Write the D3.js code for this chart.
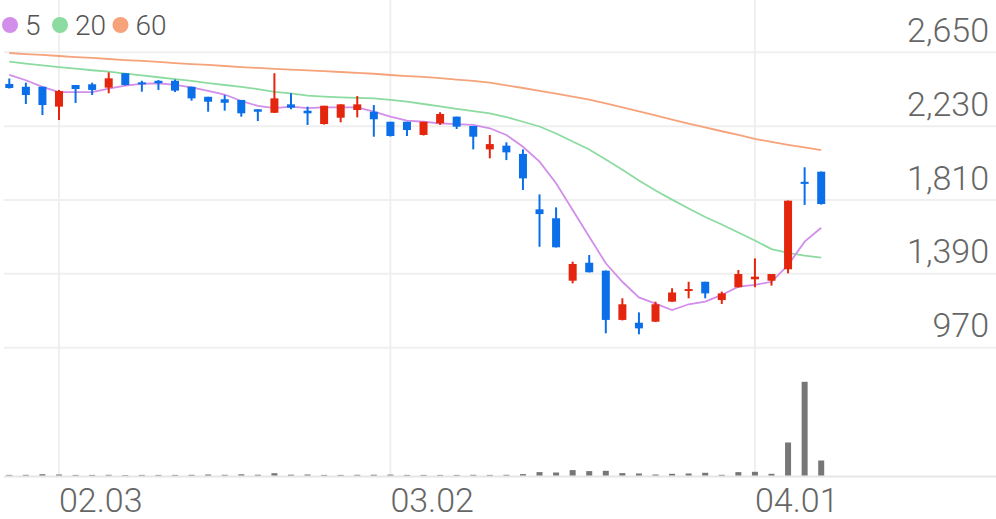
<!DOCTYPE html>
<html>
<head>
<meta charset="utf-8">
<script src="https://cdn.jsdelivr.net/npm/d3@7"></script>
<style>
  html, body { margin: 0; padding: 0; background: #fff; }
  svg { display: block; }
  text { font-family: Roboto, "Noto Sans", sans-serif; }
</style>
</head>
<body>
<svg id="chart" width="996" height="519"></svg>
<script>
const dates = ["01.29","01.30","01.31","02.03","02.04","02.05","02.06","02.07","02.10","02.11",
  "02.12","02.13","02.14","02.17","02.18","02.19","02.20","02.21","02.24","02.25",
  "02.26","02.27","02.28","03.02","03.03","03.04","03.05","03.06","03.09","03.10",
  "03.11","03.12","03.13","03.16","03.17","03.18","03.19","03.20","03.23","03.24",
  "03.25","03.26","03.27","03.30","03.31","04.01","04.02","04.03","04.06","04.07"];
const open  = [2470,2454,2454,2341,2464,2468,2449,2531,2479,2488,2488,2454,2397,2383,2379,2326,2306,2354,2318,2242,2278,2322,2312,2255,2255,2180,2246,2284,2231,2098,2119,2072,1757,1706,1351,1453,1408,1128,1112,1118,1232,1294,1345,1241,1314,1359,1351,1416,1912,1971];
const high  = [2501,2477,2454,2436,2464,2477,2536,2531,2488,2492,2495,2454,2397,2407,2379,2326,2531,2417,2341,2346,2354,2401,2350,2255,2255,2255,2309,2284,2231,2180,2138,2098,1842,1768,1459,1497,1409,1251,1171,1232,1308,1345,1345,1289,1412,1478,1389,1807,1996,1972];
const low   = [2444,2356,2293,2265,2362,2407,2417,2461,2426,2436,2424,2375,2312,2318,2284,2259,2305,2326,2237,2239,2252,2280,2170,2171,2174,2177,2237,2214,2098,2047,2037,1867,1544,1540,1336,1398,1052,1125,1046,1116,1230,1251,1251,1219,1312,1314,1323,1393,1782,1784];
const close = [2447,2407,2350,2430,2441,2436,2502,2464,2468,2474,2432,2388,2369,2363,2303,2312,2388,2335,2303,2346,2354,2354,2269,2174,2208,2255,2299,2227,2170,2128,2081,1933,1730,1541,1446,1399,1128,1217,1080,1217,1284,1302,1279,1279,1389,1374,1389,1806,1903,1787];
const volume = [60000,70000,130000,100000,60000,60000,70000,50000,60000,60000,60000,70000,100000,70000,120000,80000,230000,80000,100000,60000,60000,70000,80000,90000,60000,60000,60000,60000,70000,60000,70000,140000,340000,300000,540000,440000,470000,240000,200000,100000,170000,200000,270000,70000,340000,370000,170000,3300000,9370000,1500000];
const ma5  = [2521,2491,2453,2424,2423,2423,2444,2461,2471,2474,2465,2450,2430,2410,2373,2345,2332,2341,2332,2337,2337,2337,2312,2284,2261,2255,2246,2242,2237,2218,2180,2113,2028,1905,1753,1601,1450,1345,1256,1221,1184,1217,1232,1270,1317,1327,1345,1440,1573,1652];
const ma20 = [2597,2586,2576,2566,2557,2548,2540,2529,2519,2508,2498,2487,2475,2464,2453,2441,2425,2416,2404,2398,2394,2391,2388,2380,2369,2356,2342,2328,2315,2303,2282,2255,2228,2188,2143,2097,2040,1982,1921,1864,1812,1762,1713,1671,1625,1580,1531,1509,1494,1482];
const ma60 = [2646,2640,2635,2629,2623,2618,2612,2606,2601,2595,2589,2583,2578,2572,2566,2561,2556,2552,2547,2543,2538,2533,2528,2521,2515,2510,2503,2495,2487,2477,2462,2447,2431,2415,2398,2381,2360,2337,2314,2291,2267,2245,2223,2201,2180,2158,2140,2124,2109,2094];
const priceTicks = [970, 1390, 1810, 2230, 2650];
const dateTicks = ["02.03", "03.02", "04.01"];
const legendLabels = ["5", "20", "60"];

const W = 996, H = 519;
const colors = { up: "#e3260d", down: "#0a6fe8", vol: "#777777",
  ma5: "#d28ee9", ma20: "#8cdba0", ma60: "#f6a27a", grid: "#efefef", text: "#666666" };

const svg = d3.select("#chart");
svg.append("rect").attr("width", W).attr("height", H).attr("fill", "#fff");

const x = d3.scalePoint().domain(dates).range([9.3, 821.2]);
const y = d3.scaleLinear().domain([970, 2650]).range([347.7, 52.3]);
const yv = d3.scaleLinear().domain([0, 10000000]).range([475.5, 375.5]);

// horizontal grid
svg.append("g").selectAll("line").data(priceTicks).join("line")
  .attr("x1", 4).attr("x2", W)
  .attr("y1", d => y(d)).attr("y2", d => y(d))
  .attr("stroke", colors.grid).attr("stroke-width", 2);

// vertical grid
svg.append("g").selectAll("line").data(dateTicks).join("line")
  .attr("x1", d => x(d)).attr("x2", d => x(d))
  .attr("y1", 0).attr("y2", 475)
  .attr("stroke", colors.grid).attr("stroke-width", 2);

// volume baseline
svg.append("line").attr("x1", 4).attr("x2", W).attr("y1", 476.5).attr("y2", 476.5)
  .attr("stroke", "#e6e6e6").attr("stroke-width", 2);

// price labels
svg.append("g").selectAll("text").data(priceTicks).join("text")
  .attr("x", 989).attr("y", d => y(d) - 10.5)
  .attr("text-anchor", "end").attr("fill", colors.text)
  .attr("font-size", 34).attr("font-weight", 300)
  .text(d => d3.format(",")(d));

// date labels
svg.append("g").selectAll("text").data(dateTicks).join("text")
  .attr("x", d => x(d)).attr("y", 512)
  .attr("text-anchor", "start").attr("fill", colors.text)
  .attr("font-size", 34).attr("font-weight", 300)
  .text(d => d);

// volume bars
svg.append("g").selectAll("rect").data(dates).join("rect")
  .attr("x", d => x(d) - 3).attr("width", 6)
  .attr("y", (d, i) => yv(volume[i]))
  .attr("height", (d, i) => yv(0) - yv(volume[i]))
  .attr("fill", colors.vol);

// MA lines
const lineGen = arr => d3.line().x((d, i) => x(dates[i])).y(d => y(d))(arr);
[[ma60, colors.ma60], [ma20, colors.ma20], [ma5, colors.ma5]].forEach(([arr, c]) => {
  svg.append("path").attr("d", lineGen(arr)).attr("fill", "none")
    .attr("stroke", c).attr("stroke-width", 1.8);
});

// candles
const cg = svg.append("g");
dates.forEach((d, i) => {
  const up = close[i] >= open[i];
  const c = up ? colors.up : colors.down;
  const cx = x(d);
  cg.append("line").attr("x1", cx).attr("x2", cx)
    .attr("y1", y(high[i])).attr("y2", y(low[i]))
    .attr("stroke", c).attr("stroke-width", 2);
  const top = y(Math.max(open[i], close[i]));
  const bot = y(Math.min(open[i], close[i]));
  const h = Math.max(bot - top, 2);
  cg.append("rect").attr("x", cx - 4).attr("width", 8)
    .attr("y", top - (h - (bot - top)) / 2).attr("height", h)
    .attr("fill", c);
});

// legend
const legendColors = [colors.ma5, colors.ma20, colors.ma60];
const legendCx = [10, 60, 120.5];
const lg = svg.append("g");
legendLabels.forEach((t, i) => {
  lg.append("circle").attr("cx", legendCx[i]).attr("cy", 25).attr("r", 8)
    .attr("fill", legendColors[i]);
  lg.append("text").attr("x", legendCx[i] + 15).attr("y", 35)
    .attr("fill", "#555").attr("font-size", 28).attr("font-weight", 300)
    .text(t);
});
</script>
</body>
</html>
